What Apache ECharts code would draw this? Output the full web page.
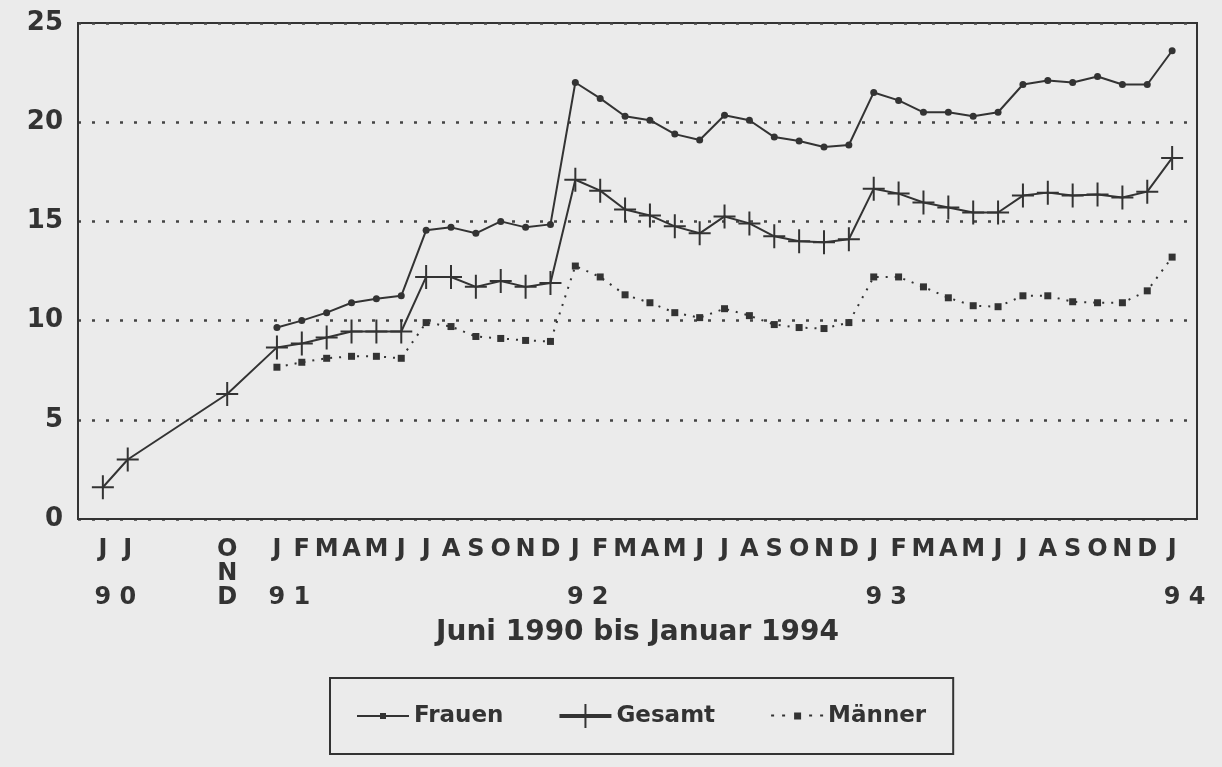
<!DOCTYPE html>
<html>
<head>
<meta charset="utf-8">
<script src="https://cdn.jsdelivr.net/npm/echarts@6/dist/echarts.min.js"></script>
<style>
  html, body { margin: 0; padding: 0; background: #ebebeb; }
  #chart { width: 1222px; height: 767px; }
</style>
</head>
<body>
<div id="chart"></div>
<script>
// Monate Mai 1990 .. Feb 1994 (Achse läuft vom Rand bis Rand)
const categories = [];
for (let y = 1990; y <= 1994; y++) {
  for (let m = 1; m <= 12; m++) {
    if (y === 1990 && m < 5) continue;
    if (y === 1994 && m > 2) continue;
    categories.push(`${y}-${m < 10 ? '0' + m : m}`);
  }
}

const monthRow = ['', 'J', 'J', '', '', '', 'O', '',
  'J', 'F', 'M', 'A', 'M', 'J', 'J', 'A', 'S', 'O', 'N', 'D',
  'J', 'F', 'M', 'A', 'M', 'J', 'J', 'A', 'S', 'O', 'N', 'D',
  'J', 'F', 'M', 'A', 'M', 'J', 'J', 'A', 'S', 'O', 'N', 'D',
  'J', ''];
const midRow = ['', '', '', '', '', '', 'N', ''];
const yearRow = ['', '9', '0', '', '', '', 'D', '',
  '9', '1', '', '', '', '', '', '', '', '', '', '',
  '9', '2', '', '', '', '', '', '', '', '', '', '',
  '9', '3', '', '', '', '', '', '', '', '', '', '',
  '9', '4'];

const gesamt = [null, 1.6, 3.0, null, null, null, 6.3, null,
  8.65, 8.85, 9.15, 9.45, 9.45, 9.45, 12.2, 12.2, 11.7, 12.0, 11.7, 11.9,
  17.1, 16.55, 15.6, 15.3, 14.75, 14.4, 15.25, 14.9, 14.25, 14.0, 13.95, 14.1,
  16.65, 16.4, 15.95, 15.7, 15.45, 15.45, 16.3, 16.45, 16.3, 16.35, 16.2, 16.5,
  18.2, null];
const frauen = [null, null, null, null, null, null, null, null,
  9.65, 10.0, 10.4, 10.9, 11.1, 11.25, 14.55, 14.7, 14.4, 15.0, 14.7, 14.85,
  22.0, 21.2, 20.3, 20.1, 19.4, 19.1, 20.35, 20.1, 19.25, 19.05, 18.75, 18.85,
  21.5, 21.1, 20.5, 20.5, 20.3, 20.5, 21.9, 22.1, 22.0, 22.3, 21.9, 21.9,
  23.6, null];
const maenner = [null, null, null, null, null, null, null, null,
  7.65, 7.9, 8.1, 8.2, 8.2, 8.1, 9.9, 9.7, 9.2, 9.1, 9.0, 8.95,
  12.75, 12.2, 11.3, 10.9, 10.4, 10.15, 10.6, 10.25, 9.8, 9.65, 9.6, 9.9,
  12.2, 12.2, 11.7, 11.15, 10.75, 10.7, 11.25, 11.25, 10.95, 10.9, 10.9, 11.5,
  13.2, null];

const ink = '#333333';
const font = 'DejaVu Sans';
const crossSymbol = 'path://M10,0h2v24h-2zM0,11h22v2h-22z';
// Legendensymbole wie im Original: Linie mit Punkt / dicke Linie mit Kreuz / Punkte
const iconFrauen = 'path://M0,2h52v2h-52zM23,0h6v6h-6z';
const iconGesamt = 'path://M0,10h52v4h-52zM25,0h2v24h-2z';
const iconMaenner = 'path://M0,3h3v2h-3zM11,3h3v2h-3zM23,1h7v7h-7zM38,3h3v2h-3zM49,3h3v2h-3z';

const chart = echarts.init(document.getElementById('chart'));
chart.setOption({
  backgroundColor: '#ebebeb',
  animation: false,
  textStyle: { fontFamily: font, color: ink },
  grid: {
    left: 78,
    right: 25,
    top: 23,
    bottom: 248,
    show: true,
    borderColor: ink,
    borderWidth: 2,
    backgroundColor: 'transparent',
  },
  legend: {
    left: 330,
    top: 678,
    padding: [26, 27, 26, 27],
    itemWidth: 52,
    itemHeight: 24,
    itemGap: 56,
    borderColor: ink,
    borderWidth: 2,
    textStyle: { fontFamily: font, fontWeight: 'bold', fontSize: 23, color: ink },
    data: [
      { name: 'Frauen', icon: iconFrauen },
      { name: 'Gesamt', icon: iconGesamt },
      { name: 'Männer', icon: iconMaenner },
    ],
  },
  xAxis: {
    type: 'category',
    data: categories,
    boundaryGap: false,
    name: 'Juni 1990 bis Januar 1994',
    nameLocation: 'middle',
    nameGap: 100,
    nameTextStyle: { fontFamily: font, fontWeight: 'bold', fontSize: 28, color: ink },
    axisLine: { lineStyle: { color: ink, width: 2 } },
    axisTick: { show: false },
    splitLine: { show: false },
    axisLabel: {
      interval: 0,
      margin: 19,
      fontFamily: font,
      fontWeight: 'bold',
      fontSize: 24,
      lineHeight: 24,
      color: ink,
      formatter(value, idx) {
        const a = monthRow[idx] || ' ';
        const b = midRow[idx] || ' ';
        const c = yearRow[idx] || ' ';
        return `${a}\n${b}\n${c}`;
      },
    },
  },
  yAxis: {
    type: 'value',
    min: 0,
    max: 25,
    interval: 5,
    axisLine: { show: true, lineStyle: { color: ink, width: 2 } },
    axisTick: { show: false },
    axisLabel: {
      margin: 15,
      fontFamily: font,
      fontWeight: 'bold',
      fontSize: 26,
      color: ink,
    },
    splitLine: {
      show: true,
      lineStyle: { color: '#444', width: 2.5, type: [3, 11] },
    },
  },
  series: [
    {
      name: 'Frauen',
      type: 'line',
      data: frauen,
      symbol: 'circle',
      symbolSize: 7,
      itemStyle: { color: ink },
      lineStyle: { color: ink, width: 2 },
    },
    {
      name: 'Gesamt',
      type: 'line',
      data: gesamt,
      connectNulls: true,
      symbol: crossSymbol,
      symbolSize: [22, 24],
      itemStyle: { color: ink },
      lineStyle: { color: ink, width: 2 },
    },
    {
      name: 'Männer',
      type: 'line',
      data: maenner,
      symbol: 'rect',
      symbolSize: 7,
      itemStyle: { color: ink },
      lineStyle: { color: ink, width: 2, type: [2, 7] },
    },
  ],
});
</script>
</body>
</html>
